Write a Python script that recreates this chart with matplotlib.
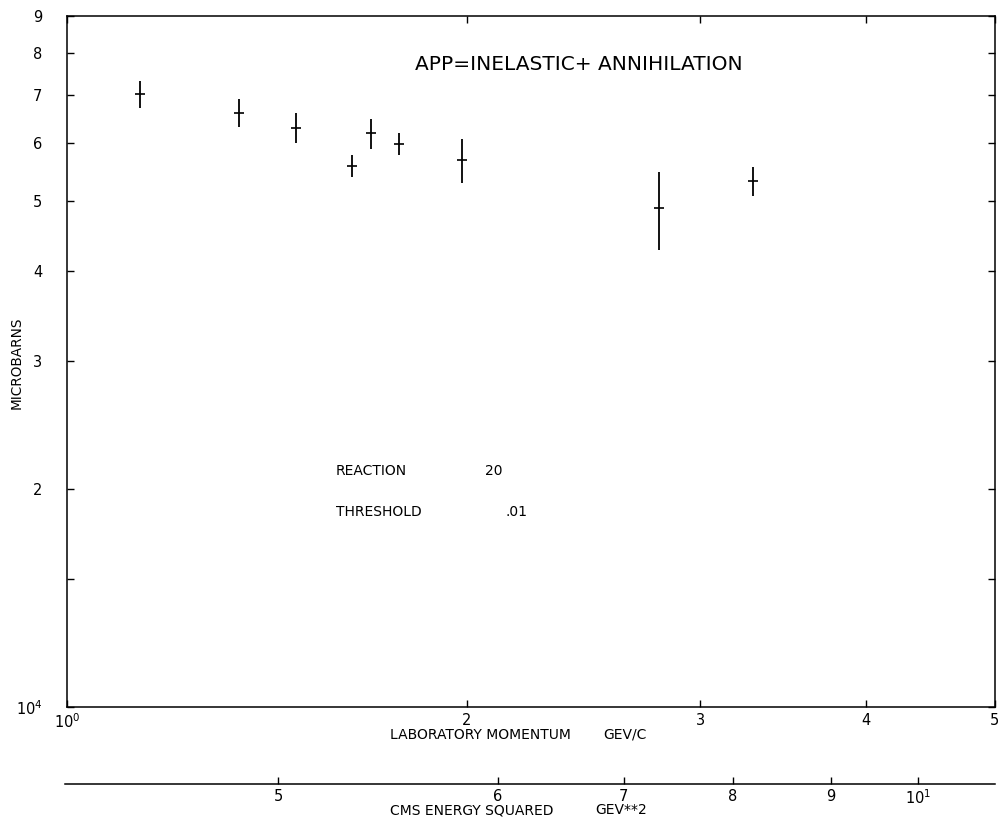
import matplotlib
matplotlib.use("Agg")
import matplotlib.pyplot as plt
from matplotlib.ticker import FixedLocator, FixedFormatter, NullLocator

plt.rcParams['font.family'] = ['DejaVu Sans']
plt.rcParams['mathtext.default'] = 'regular'

# p-pbar inelastic + annihilation cross section, reaction 20
p_lab = [1.134, 1.346, 1.487, 1.640, 1.693, 1.778, 1.985, 2.792, 3.285]          # GeV/c
sigma = [70200, 66100, 63000, 55900, 61900, 59900, 56900, 48800, 53200]          # microbarns
sigma_err = [3000, 3000, 3000, 2000, 3000, 2000, 4000, 6000, 2400]

# left / bottom axis ticks
y_ticks = [1e4, 1.5e4, 2e4, 3e4, 4e4, 5e4, 6e4, 7e4, 8e4, 9e4]
y_labels = [r'$10^4$', '', '2', '3', '4', '5', '6', '7', '8', '9']
x_ticks = [1, 2, 3, 4, 5]
x_labels = [r'$10^0$', '2', '3', '4', '5']

# CMS energy squared scale, with the lab momentum at which each value falls
cms_s = [5, 6, 7, 8, 9, 10]
cms_p = [1.446, 2.116, 2.631, 3.176, 3.765, 4.377]
cms_labels = ['5', '6', '7', '8', '9', r'$10^1$']

fig = plt.figure(figsize=(10.07, 8.23), dpi=100)
ax = fig.add_axes([0.067, 0.1409, 0.9208, 0.840])
ax.set_xscale('log')
ax.set_yscale('log')
ax.set_xlim(1, 5)
ax.set_ylim(1e4, 9e4)

ax.errorbar(p_lab, sigma, yerr=sigma_err, fmt='none', ecolor='black',
            elinewidth=1.3, capsize=0)
ax.plot(p_lab, sigma, ls='none', marker='_', ms=7, mew=1.2, color='black')

for sp in ax.spines.values():
    sp.set_linewidth(1.1)

ax.xaxis.set_major_locator(FixedLocator(x_ticks))
ax.xaxis.set_major_formatter(FixedFormatter(x_labels))
ax.xaxis.set_minor_locator(NullLocator())
ax.yaxis.set_major_locator(FixedLocator(y_ticks))
ax.yaxis.set_major_formatter(FixedFormatter(y_labels))
ax.yaxis.set_minor_locator(NullLocator())
ax.tick_params(axis='both', which='major', direction='in', length=5, width=1,
               top=True, right=True, labelsize=10.5)
ax.tick_params(axis='x', pad=4)
ax.tick_params(axis='y', pad=18)

ax.text(0.3748, 0.930, 'APP=INELASTIC+ ANNIHILATION', transform=ax.transAxes,
        ha='left', va='center', fontsize=14.5)
ax.text(0.2896, 0.3418, 'REACTION', transform=ax.transAxes,
        ha='left', va='center', fontsize=10)
ax.text(0.4503, 0.3418, '20', transform=ax.transAxes,
        ha='left', va='center', fontsize=10)
ax.text(0.2896, 0.2816, 'THRESHOLD', transform=ax.transAxes,
        ha='left', va='center', fontsize=10)
ax.text(0.4719, 0.2816, '.01', transform=ax.transAxes,
        ha='left', va='center', fontsize=10)

fig.text(0.0169, 0.559, 'MICROBARNS', rotation=90, ha='center', va='center',
         fontsize=9.8)

# lab momentum axis title
fig.text(0.3873, 1 - 735 / 823, 'LABORATORY MOMENTUM', ha='left', va='center',
         fontsize=10)
fig.text(0.6425, 1 - 735 / 823, 'GEV/C', ha='right', va='center', fontsize=10)

# secondary CMS energy squared scale
ax2 = fig.add_axes([0.0645, 0.0468, 0.9233, 0.0001])
ax2.set_xscale('log')
ax2.set_xlim(1, 5)
for name, sp in ax2.spines.items():
    sp.set_visible(name == 'bottom')
ax2.spines['bottom'].set_linewidth(1.1)
ax2.set_yticks([])
ax2.patch.set_visible(False)
ax2.xaxis.set_major_locator(FixedLocator(cms_p))
ax2.xaxis.set_major_formatter(FixedFormatter(cms_labels))
ax2.xaxis.set_minor_locator(NullLocator())
ax2.tick_params(axis='x', direction='in', length=5, width=1, labelsize=10.5, pad=3)

fig.text(0.3873, 1 - 810 / 823, 'CMS ENERGY SQUARED', ha='left', va='center',
         fontsize=10)
fig.text(0.6425, 1 - 810 / 823, 'GEV**2', ha='right', va='center', fontsize=10)

fig.savefig('out.png', dpi=100)
